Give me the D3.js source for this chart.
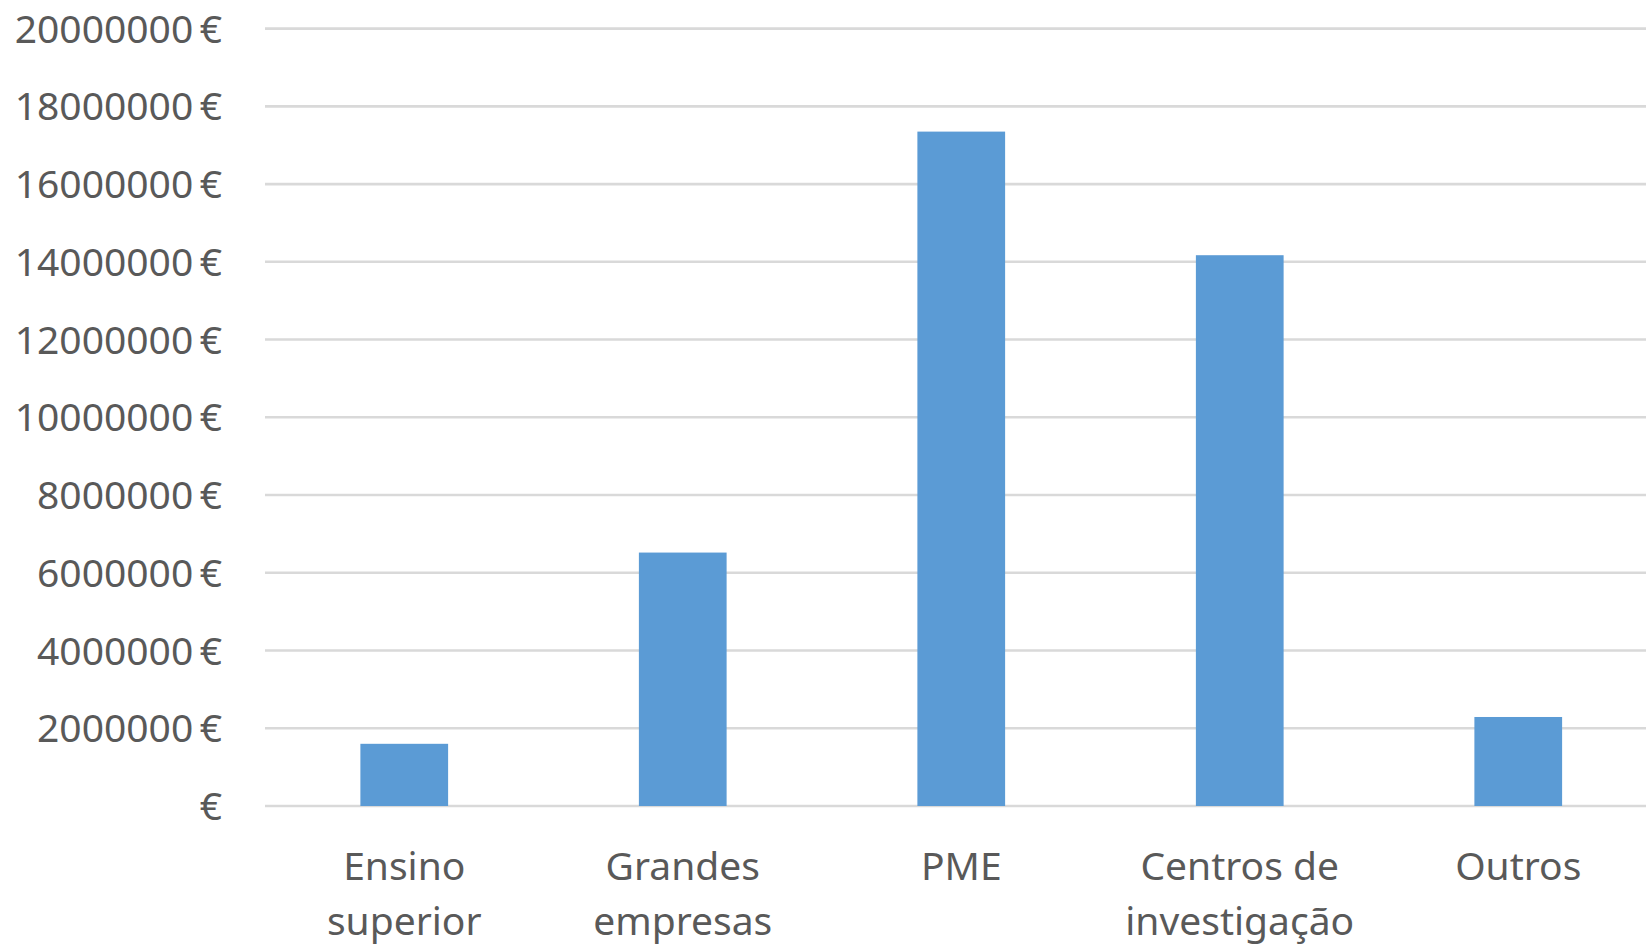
<!DOCTYPE html>
<html>
<head>
<meta charset="utf-8">
<script src="https://cdn.jsdelivr.net/npm/d3@7"></script>
<style>
  html, body { margin: 0; padding: 0; background: #ffffff; overflow: hidden; }
  svg { display: block; }
</style>
</head>
<body>
<script>
// ---- data ----
const categories = [["Ensino", "superior"], ["Grandes", "empresas"], ["PME"], ["Centros de", "investigação"], ["Outros"]];
const values = [1600000, 6520000, 17350000, 14170000, 2290000];
const yTicks = [0, 2000000, 4000000, 6000000, 8000000, 10000000, 12000000, 14000000, 16000000, 18000000, 20000000];

const W = 1646, H = 950;
const plot = { left: 265, right: 1657.5, top: 28.6, bottom: 806 };

const svg = d3.select("body").append("svg").attr("width", W).attr("height", H);

const x = d3.scaleBand()
  .domain(categories.map((d, i) => i))
  .range([plot.left, plot.right])
  .paddingInner(0.685)
  .paddingOuter(0.3425);

const y = d3.scaleLinear().domain([0, 20000000]).range([plot.bottom, plot.top]);

const font = "'Noto Sans', 'Open Sans', sans-serif";
const textColor = "#595959";

// gridlines
svg.append("g").selectAll("line").data(yTicks).join("line")
  .attr("x1", plot.left).attr("x2", plot.right)
  .attr("y1", d => y(d)).attr("y2", d => y(d))
  .attr("stroke", "#d9d9d9").attr("stroke-width", 2.6);

// y axis labels
const yAxis = d3.axisLeft(y).tickValues(yTicks).tickSize(0).tickPadding(0)
  .tickFormat(d => d === 0 ? "€" : d3.format("d")(d) + "\u2009€");
const gy = svg.append("g").attr("transform", "translate(222,0)").call(yAxis);
gy.select(".domain").remove();
gy.selectAll("text")
  .attr("font-family", font).attr("font-size", 39).attr("fill", textColor)
  .attr("x", 0).attr("dy", "0.35em");

// bars
svg.append("g").selectAll("rect").data(values).join("rect")
  .attr("x", (d, i) => x(i))
  .attr("width", x.bandwidth())
  .attr("y", d => y(d))
  .attr("height", d => y(0) - y(d))
  .attr("fill", "#5b9bd5");

// x labels
const xl = svg.append("g").selectAll("text").data(categories).join("text")
  .attr("font-family", font).attr("font-size", 39).attr("fill", textColor)
  .attr("text-anchor", "middle");
xl.each(function(lines, i) {
  const t = d3.select(this);
  lines.forEach((ln, j) => {
    t.append("tspan")
      .attr("x", x(i) + x.bandwidth() / 2)
      .attr("y", plot.bottom + 74 + j * 55)
      .text(ln);
  });
});
</script>
</body>
</html>
